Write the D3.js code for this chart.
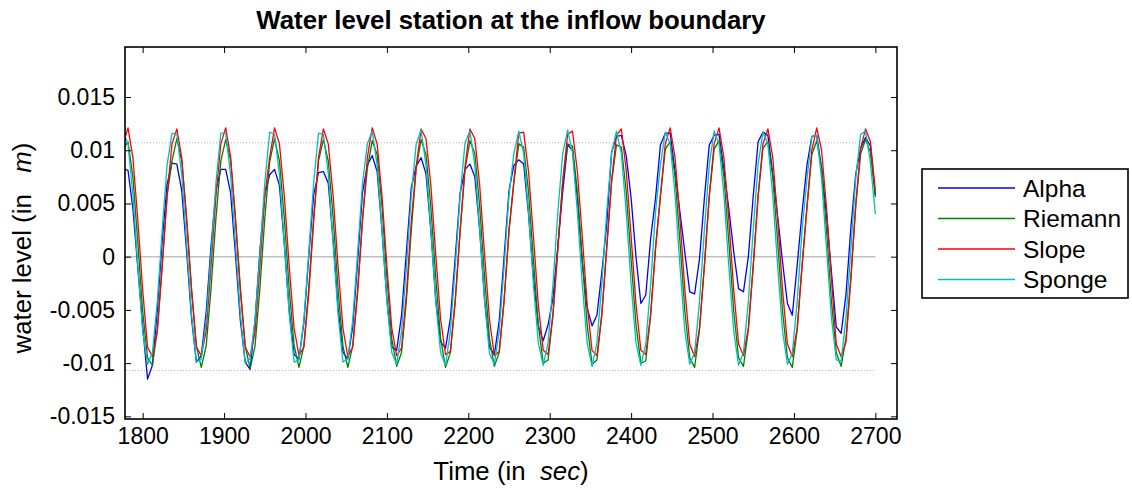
<!DOCTYPE html>
<html>
<head>
<meta charset="utf-8">
<script src="https://cdn.jsdelivr.net/npm/d3@7"></script>
<style>
  body { margin: 0; background: #fff; }
  text { font-family: "Liberation Sans", Arial, Helvetica, sans-serif; fill: #000; }
</style>
</head>
<body>
<svg id="chart" width="1132" height="490"></svg>
<script>
// Water level at the inflow boundary station, sampled every 6 s (1776 s .. 2700 s)
const time = d3.range(1776, 2701, 6);

// One row per wave period (10 samples)
const alpha = [
  0.0083, 0.0081, 0.0045, -0.0010, -0.0065, -0.0115, -0.0102, -0.0050, 0.0015, 0.0068,
  0.0088, 0.0087, 0.0062, 0.0005, -0.0058, -0.0099, -0.0093, -0.0052, 0.0010, 0.0062,
  0.0082, 0.0082, 0.0060, 0.0002, -0.0060, -0.0099, -0.0106, -0.0060, 0.0005, 0.0058,
  0.0077, 0.0082, 0.0067, 0.0012, -0.0050, -0.0092, -0.0096, -0.0062, 0.0000, 0.0058,
  0.0079, 0.0080, 0.0069, 0.0015, -0.0048, -0.0090, -0.0096, -0.0066, -0.0005, 0.0060,
  0.0086, 0.0095, 0.0080, 0.0025, -0.0040, -0.0085, -0.0088, -0.0055, 0.0005, 0.0065,
  0.0085, 0.0093, 0.0078, 0.0025, -0.0040, -0.0080, -0.0086, -0.0058, 0.0000, 0.0060,
  0.0082, 0.0087, 0.0075, 0.0025, -0.0040, -0.0085, -0.0092, -0.0060, 0.0000, 0.0062,
  0.0086, 0.0091, 0.0087, 0.0040, -0.0020, -0.0065, -0.0079, -0.0064, -0.0039, 0.0010,
  0.0061, 0.0105, 0.0100, 0.0055, -0.0005, -0.0048, -0.0065, -0.0055, -0.0015, 0.0030,
  0.0098, 0.0113, 0.0114, 0.0095, 0.0055, 0.0000, -0.0044, -0.0036, 0.0017, 0.0055,
  0.0105, 0.0116, 0.0116, 0.0080, 0.0042, 0.0004, -0.0033, -0.0035, -0.0002, 0.0055,
  0.0105, 0.0114, 0.0115, 0.0082, 0.0045, 0.0005, -0.0030, -0.0033, 0.0000, 0.0057,
  0.0108, 0.0117, 0.0114, 0.0078, 0.0038, -0.0005, -0.0044, -0.0055, -0.0008, 0.0042,
  0.0086, 0.0113, 0.0114, 0.0083, 0.0039, -0.0014, -0.0066, -0.0072, -0.0035, 0.0028,
  0.0078, 0.0102, 0.0112, 0.0104, 0.0058
];

const riemann = [
  0.0101, 0.0108, 0.0075, 0.0014, -0.0051, -0.0095, -0.0102, -0.0069, -0.0008, 0.0057,
  0.0090, 0.0111, 0.0090, 0.0036, -0.0030, -0.0084, -0.0104, -0.0084, -0.0030, 0.0036,
  0.0090, 0.0110, 0.0091, 0.0036, -0.0030, -0.0084, -0.0105, -0.0084, -0.0030, 0.0036,
  0.0089, 0.0111, 0.0090, 0.0036, -0.0030, -0.0083, -0.0104, -0.0084, -0.0030, 0.0036,
  0.0090, 0.0110, 0.0090, 0.0037, -0.0030, -0.0084, -0.0104, -0.0084, -0.0031, 0.0035,
  0.0083, 0.0109, 0.0096, 0.0047, -0.0019, -0.0077, -0.0103, -0.0090, -0.0041, 0.0025,
  0.0083, 0.0110, 0.0096, 0.0047, -0.0019, -0.0077, -0.0104, -0.0090, -0.0041, 0.0025,
  0.0082, 0.0109, 0.0097, 0.0047, -0.0019, -0.0077, -0.0103, -0.0090, -0.0041, 0.0025,
  0.0070, 0.0106, 0.0103, 0.0061, -0.0003, -0.0064, -0.0100, -0.0097, -0.0055, 0.0009,
  0.0070, 0.0106, 0.0104, 0.0061, -0.0003, -0.0064, -0.0101, -0.0097, -0.0055, 0.0009,
  0.0070, 0.0105, 0.0103, 0.0061, -0.0003, -0.0064, -0.0100, -0.0098, -0.0055, 0.0009,
  0.0057, 0.0101, 0.0108, 0.0075, 0.0014, -0.0051, -0.0095, -0.0104, -0.0069, -0.0008,
  0.0057, 0.0101, 0.0109, 0.0075, 0.0014, -0.0051, -0.0095, -0.0103, -0.0069, -0.0008,
  0.0057, 0.0102, 0.0108, 0.0075, 0.0014, -0.0051, -0.0095, -0.0104, -0.0069, -0.0008,
  0.0047, 0.0096, 0.0109, 0.0083, 0.0025, -0.0041, -0.0090, -0.0103, -0.0076, -0.0019,
  0.0048, 0.0097, 0.0110, 0.0098, 0.0056
];

const slope = [
  0.0106, 0.0121, 0.0093, 0.0035, -0.0031, -0.0085, -0.0094, -0.0070, -0.0009, 0.0057,
  0.0106, 0.0120, 0.0093, 0.0035, -0.0031, -0.0085, -0.0093, -0.0070, -0.0009, 0.0057,
  0.0106, 0.0121, 0.0094, 0.0035, -0.0031, -0.0085, -0.0094, -0.0071, -0.0009, 0.0057,
  0.0093, 0.0121, 0.0106, 0.0057, -0.0009, -0.0067, -0.0093, -0.0085, -0.0035, 0.0033,
  0.0093, 0.0120, 0.0106, 0.0057, -0.0009, -0.0067, -0.0094, -0.0085, -0.0035, 0.0033,
  0.0093, 0.0121, 0.0106, 0.0057, -0.0009, -0.0067, -0.0093, -0.0086, -0.0035, 0.0033,
  0.0085, 0.0120, 0.0111, 0.0067, 0.0002, -0.0059, -0.0092, -0.0089, -0.0041, 0.0024,
  0.0085, 0.0120, 0.0111, 0.0067, 0.0002, -0.0059, -0.0093, -0.0089, -0.0041, 0.0024,
  0.0071, 0.0116, 0.0117, 0.0080, 0.0019, -0.0045, -0.0088, -0.0092, -0.0054, 0.0007,
  0.0071, 0.0115, 0.0118, 0.0080, 0.0019, -0.0045, -0.0088, -0.0093, -0.0054, 0.0007,
  0.0071, 0.0114, 0.0120, 0.0081, 0.0019, -0.0045, -0.0088, -0.0092, -0.0054, 0.0007,
  0.0057, 0.0106, 0.0121, 0.0093, 0.0035, -0.0031, -0.0082, -0.0094, -0.0067, -0.0009,
  0.0057, 0.0106, 0.0121, 0.0093, 0.0035, -0.0031, -0.0082, -0.0093, -0.0067, -0.0009,
  0.0057, 0.0106, 0.0120, 0.0093, 0.0035, -0.0031, -0.0082, -0.0094, -0.0067, -0.0009,
  0.0046, 0.0100, 0.0121, 0.0100, 0.0046, -0.0020, -0.0082, -0.0094, -0.0080, -0.0020,
  0.0050, 0.0102, 0.0120, 0.0108, 0.0062
];

const sponge = [
  0.0117, 0.0106, 0.0058, -0.0009, -0.0070, -0.0101, -0.0090, -0.0042, 0.0025, 0.0086,
  0.0116, 0.0115, 0.0077, 0.0012, -0.0054, -0.0099, -0.0096, -0.0060, 0.0003, 0.0069,
  0.0116, 0.0116, 0.0077, 0.0012, -0.0054, -0.0100, -0.0096, -0.0060, 0.0003, 0.0069,
  0.0117, 0.0115, 0.0077, 0.0012, -0.0054, -0.0099, -0.0097, -0.0060, 0.0003, 0.0069,
  0.0116, 0.0115, 0.0078, 0.0012, -0.0054, -0.0099, -0.0096, -0.0060, 0.0003, 0.0069,
  0.0106, 0.0118, 0.0086, 0.0025, -0.0042, -0.0090, -0.0101, -0.0070, -0.0009, 0.0058,
  0.0106, 0.0119, 0.0086, 0.0025, -0.0042, -0.0090, -0.0102, -0.0070, -0.0009, 0.0058,
  0.0107, 0.0118, 0.0086, 0.0025, -0.0042, -0.0091, -0.0101, -0.0070, -0.0009, 0.0058,
  0.0097, 0.0118, 0.0097, 0.0042, -0.0026, -0.0081, -0.0102, -0.0081, -0.0026, 0.0042,
  0.0097, 0.0119, 0.0098, 0.0042, -0.0026, -0.0081, -0.0103, -0.0081, -0.0026, 0.0042,
  0.0097, 0.0118, 0.0097, 0.0042, -0.0026, -0.0081, -0.0102, -0.0082, -0.0026, 0.0042,
  0.0086, 0.0117, 0.0106, 0.0058, -0.0009, -0.0070, -0.0101, -0.0090, -0.0042, 0.0025,
  0.0086, 0.0118, 0.0106, 0.0058, -0.0009, -0.0070, -0.0102, -0.0090, -0.0042, 0.0025,
  0.0087, 0.0117, 0.0106, 0.0058, -0.0009, -0.0070, -0.0101, -0.0091, -0.0042, 0.0025,
  0.0073, 0.0113, 0.0114, 0.0073, 0.0008, -0.0057, -0.0097, -0.0098, -0.0057, 0.0008,
  0.0075, 0.0115, 0.0118, 0.0088, 0.0040
];

const seriesNames  = ["Alpha", "Riemann", "Slope", "Sponge"];
const seriesColors = ["#0000ff", "#008000", "#ff0000", "#00bfbf"];
const seriesValues = [alpha, riemann, slope, sponge];

const xTickValues = [1800, 1900, 2000, 2100, 2200, 2300, 2400, 2500, 2600, 2700];
const yTickValues = [-0.015, -0.01, -0.005, 0, 0.005, 0.01, 0.015];
const yTickLabels = ["-0.015", "-0.01", "-0.005", "0", "0.005", "0.01", "0.015"];
const envelopeLevels = [0.0107, -0.0107];   // dotted reference levels
const xDomain = [1778.3, 2726.6];
const yDomain = [-0.01525, 0.0197];

const svg = d3.select("#chart");
const plot = { left: 125, right: 897, top: 47, bottom: 419 };

const x = d3.scaleLinear().domain(xDomain).range([plot.left, plot.right]);
const y = d3.scaleLinear().domain(yDomain).range([plot.bottom, plot.top]);

svg.append("defs").append("clipPath").attr("id", "plotClip")
  .append("rect")
  .attr("x", plot.left).attr("y", plot.top)
  .attr("width", plot.right - plot.left).attr("height", plot.bottom - plot.top);

const inner = svg.append("g").attr("clip-path", "url(#plotClip)");

// reference lines spanning the record
const tStart = time[0], tEnd = time[time.length - 1];
inner.append("line")
  .attr("x1", x(tStart)).attr("x2", x(tEnd))
  .attr("y1", y(0)).attr("y2", y(0))
  .attr("stroke", "#c0c0c0").attr("stroke-width", 1.5);
envelopeLevels.forEach(v => {
  inner.append("line")
    .attr("x1", x(tStart)).attr("x2", x(tEnd))
    .attr("y1", y(v)).attr("y2", y(v))
    .attr("stroke", "#a8a8a8").attr("stroke-width", 1)
    .attr("stroke-dasharray", "1,2");
});

// series
const line = d3.line().x((d, i) => x(time[i])).y(d => y(d));
seriesValues.forEach((vals, s) => {
  inner.append("path")
    .datum(vals)
    .attr("d", line)
    .attr("fill", "none")
    .attr("stroke", seriesColors[s])
    .attr("stroke-width", 1.3)
    .attr("stroke-linejoin", "round");
});

// axes with inward ticks on all four sides
const tickLen = 6;
const fmtY = v => yTickLabels[yTickValues.indexOf(v)];

const gBottom = svg.append("g").attr("transform", `translate(0,${plot.bottom})`)
  .call(d3.axisBottom(x).tickValues(xTickValues).tickFormat(d3.format("d"))
    .tickSizeInner(-tickLen).tickSizeOuter(0).tickPadding(9));
const gTop = svg.append("g").attr("transform", `translate(0,${plot.top})`)
  .call(d3.axisTop(x).tickValues(xTickValues).tickFormat("")
    .tickSizeInner(-tickLen).tickSizeOuter(0));
const gLeft = svg.append("g").attr("transform", `translate(${plot.left},0)`)
  .call(d3.axisLeft(y).tickValues(yTickValues).tickFormat(fmtY)
    .tickSizeInner(-tickLen).tickSizeOuter(0).tickPadding(10));
const gRight = svg.append("g").attr("transform", `translate(${plot.right},0)`)
  .call(d3.axisRight(y).tickValues(yTickValues).tickFormat("")
    .tickSizeInner(-tickLen).tickSizeOuter(0));

[gBottom, gTop, gLeft, gRight].forEach(g => {
  g.select(".domain").remove();
  g.selectAll(".tick line").attr("stroke", "#000").attr("stroke-width", 1);
  g.selectAll(".tick text").attr("font-size", 23).attr("fill", "#000")
    .style("font-family", '"Liberation Sans", Arial, sans-serif');
});

// frame
svg.append("rect")
  .attr("x", plot.left).attr("y", plot.top)
  .attr("width", plot.right - plot.left).attr("height", plot.bottom - plot.top)
  .attr("fill", "none").attr("stroke", "#000").attr("stroke-width", 1.6);

// title
svg.append("text")
  .attr("x", (plot.left + plot.right) / 2).attr("y", 29)
  .attr("text-anchor", "middle")
  .attr("font-size", 25.8).attr("font-weight", "bold")
  .text("Water level station at the inflow boundary");

// x label
const xl = svg.append("text")
  .attr("x", (plot.left + plot.right) / 2).attr("y", 480)
  .attr("text-anchor", "middle").attr("font-size", 25.8);
xl.append("tspan").text("Time (in\u00a0\u00a0");
xl.append("tspan").attr("font-style", "italic").text("sec");
xl.append("tspan").text(")");

// y label
const yl = svg.append("text")
  .attr("transform", `translate(31,${(plot.top + plot.bottom) / 2 + 15}) rotate(-90)`)
  .attr("text-anchor", "middle").attr("font-size", 25.8);
yl.append("tspan").text("water level (in\u00a0\u00a0\u00a0");
yl.append("tspan").attr("font-style", "italic").text("m");
yl.append("tspan").text(")");

// legend
const legend = { x: 922, y: 169, w: 206, h: 129, row0: 188, rowStep: 30.5 };
svg.append("rect")
  .attr("x", legend.x).attr("y", legend.y)
  .attr("width", legend.w).attr("height", legend.h)
  .attr("fill", "#fff").attr("stroke", "#000").attr("stroke-width", 1.6);
seriesNames.forEach((name, i) => {
  const ry = legend.row0 + i * legend.rowStep;
  svg.append("line")
    .attr("x1", 938).attr("x2", 1015).attr("y1", ry).attr("y2", ry)
    .attr("stroke", seriesColors[i]).attr("stroke-width", 1.3);
  svg.append("text")
    .attr("x", 1023).attr("y", ry).attr("dy", "0.36em")
    .attr("font-size", 24.5).text(name);
});
</script>
</body>
</html>
